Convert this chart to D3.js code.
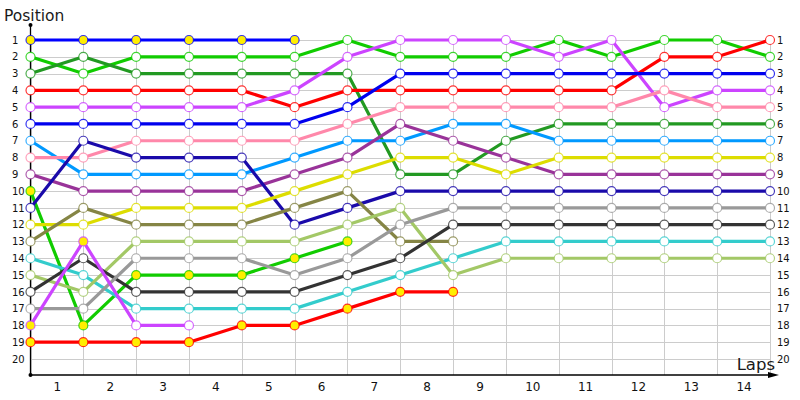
<!DOCTYPE html>
<html><head><meta charset="utf-8">
<script src="https://cdn.jsdelivr.net/npm/d3@7"></script>
<style>
html,body{margin:0;padding:0;background:#fff;}
svg{display:block;font-family:"DejaVu Sans",sans-serif;}
</style></head>
<body>
<svg id="c" width="800" height="400"></svg>
<script>
// ---- data ----
const lapLabels = [1,2,3,4,5,6,7,8,9,10,11,12,13,14];
const positionLabels = d3.range(1, 21);
const checkpoints = d3.range(0, 15); // lap boundaries 0..14

// positions per checkpoint (null = no longer running)
const series = [
  [1,1,1,1,1,1],
  [2,3,2,2,2,2,1,2,2,2,1,2,1,1,2],
  [3,2,3,3,3,3,3,9,9,7,6,6,6,6,6],
  [4,4,4,4,4,5,4,4,4,4,4,4,2,2,1],
  [5,5,5,5,5,4,2,1,1,1,2,1,5,4,4],
  [6,6,6,6,6,6,5,3,3,3,3,3,3,3,3],
  [7,9,9,9,9,8,7,7,6,6,7,7,7,7,7],
  [8,8,7,7,7,7,6,5,5,5,5,5,4,5,5],
  [9,10,10,10,10,9,8,6,7,8,9,9,9,9,9],
  [10,18,15,15,15,14,13],
  [11,7,8,8,8,12,11,10,10,10,10,10,10,10,10],
  [12,12,11,11,11,10,9,8,8,9,8,8,8,8,8],
  [13,11,12,12,12,11,10,13,13],
  [14,15,17,17,17,17,16,15,14,13,13,13,13,13,13],
  [15,16,13,13,13,13,12,11,15,14,14,14,14,14,14],
  [16,14,16,16,16,16,15,14,12,12,12,12,12,12,12],
  [17,17,14,14,14,15,14,12,11,11,11,11,11,11,11],
  [18,13,18,18],
  [19,19,19,19,18,18,17,16,16]
];
// checkpoints drawn with a filled (yellow) marker, per series
const yellowMarked = [
  [0,1,2,3,4,5], [], [], [], [], [], [], [], [],
  [0,1,2,3,4,5,6], [], [], [], [], [], [], [],
  [0,1],
  [0,1,2,3,4,5,6,7,8]
];
const seriesColors = [
  "#0000ff","#11cc00","#229922","#ff0000","#cc44ff","#0000ee","#0099ff","#ff88aa",
  "#993399","#11cc00","#1a0aaa","#dddd00","#858545","#33cccc","#a3c866","#333333",
  "#999999","#cc44ff","#ff0000"
];

// ---- drawing ----
const svg = d3.select("#c");
const x = d3.scaleLinear().domain([0, 14]).range([30.5, 770]);
const y = d3.scaleLinear().domain([1, 20]).range([40, 359]);
const axisY = 375;

// grid
const grid = svg.append("g").attr("stroke", "#cccccc").attr("stroke-width", 1);
grid.selectAll("line.h").data(positionLabels).join("line")
  .attr("x1", x(0)).attr("x2", x(14))
  .attr("y1", d => Math.round(y(d)) + 0.5).attr("y2", d => Math.round(y(d)) + 0.5);
grid.selectAll("line.v").data(checkpoints).join("line")
  .attr("x1", d => Math.round(x(d)) + 0.5).attr("x2", d => Math.round(x(d)) + 0.5)
  .attr("y1", 36).attr("y2", axisY);

// axes lines
svg.append("line").attr("x1", x(0)).attr("x2", x(0)).attr("y1", 25).attr("y2", axisY)
  .attr("stroke", "#000").attr("stroke-width", 1.3);
svg.append("line").attr("x1", x(0)).attr("x2", 772).attr("y1", axisY).attr("y2", axisY)
  .attr("stroke", "#000").attr("stroke-width", 1.3);
svg.append("path").attr("d", "M768,372 L779,375 L768,378 Z").attr("fill", "#000");
svg.append("circle").attr("cx", x(0)).attr("cy", 25).attr("r", 2).attr("fill", "#000");
svg.append("circle").attr("cx", x(0)).attr("cy", axisY).attr("r", 2).attr("fill", "#000");

// bottom tick labels (between checkpoints)
const xAxis = d3.axisBottom(x).tickValues(lapLabels.map(d => d - 0.5))
  .tickFormat((d, i) => lapLabels[i]).tickSize(0).tickPadding(7);
const gx = svg.append("g").attr("transform", `translate(0,${axisY})`).call(xAxis);
gx.select(".domain").remove();
gx.selectAll("text").attr("font-size", 12).attr("fill", "#111").attr("font-family", "DejaVu Sans");

// left and right position labels
const yLeft = d3.axisLeft(y).tickValues(positionLabels).tickSize(0).tickFormat(d3.format("d"));
const gl = svg.append("g").attr("transform", "translate(12,0)").call(yLeft);
gl.select(".domain").remove();
gl.selectAll("text").attr("text-anchor", "start").attr("x", 0).attr("font-size", 10)
  .attr("fill", "#111").attr("font-family", "DejaVu Sans");
const gr = svg.append("g").attr("transform", "translate(777,0)").call(yLeft);
gr.select(".domain").remove();
gr.selectAll("text").attr("text-anchor", "start").attr("x", 0).attr("font-size", 10)
  .attr("fill", "#111").attr("font-family", "DejaVu Sans");

// titles
svg.append("text").attr("x", 4).attr("y", 21).attr("font-size", 15.5).attr("fill", "#1a1a1a").text("Position");
svg.append("text").attr("x", 775).attr("y", 370).attr("text-anchor", "end").attr("font-size", 16.5).attr("fill", "#1a1a1a").text("Laps");

// lines
const line = d3.line().x((d, i) => x(i)).y(d => y(d));
const lg = svg.append("g");
series.forEach((s, k) => {
  lg.append("path").attr("d", line(s)).attr("fill", "none")
    .attr("stroke", seriesColors[k]).attr("stroke-width", 3.2)
    .attr("stroke-linejoin", "round");
});
const mg = svg.append("g");
series.forEach((s, k) => {
  mg.selectAll(null).data(s).join("circle")
    .attr("cx", (d, i) => x(i)).attr("cy", d => y(d)).attr("r", 4.5)
    .attr("fill", (d, i) => yellowMarked[k].includes(i) ? "#ffee00" : "#fff")
    .attr("stroke", seriesColors[k]).attr("stroke-width", 1.2).attr("stroke-opacity", 0.8);
});
</script>
</body></html>
